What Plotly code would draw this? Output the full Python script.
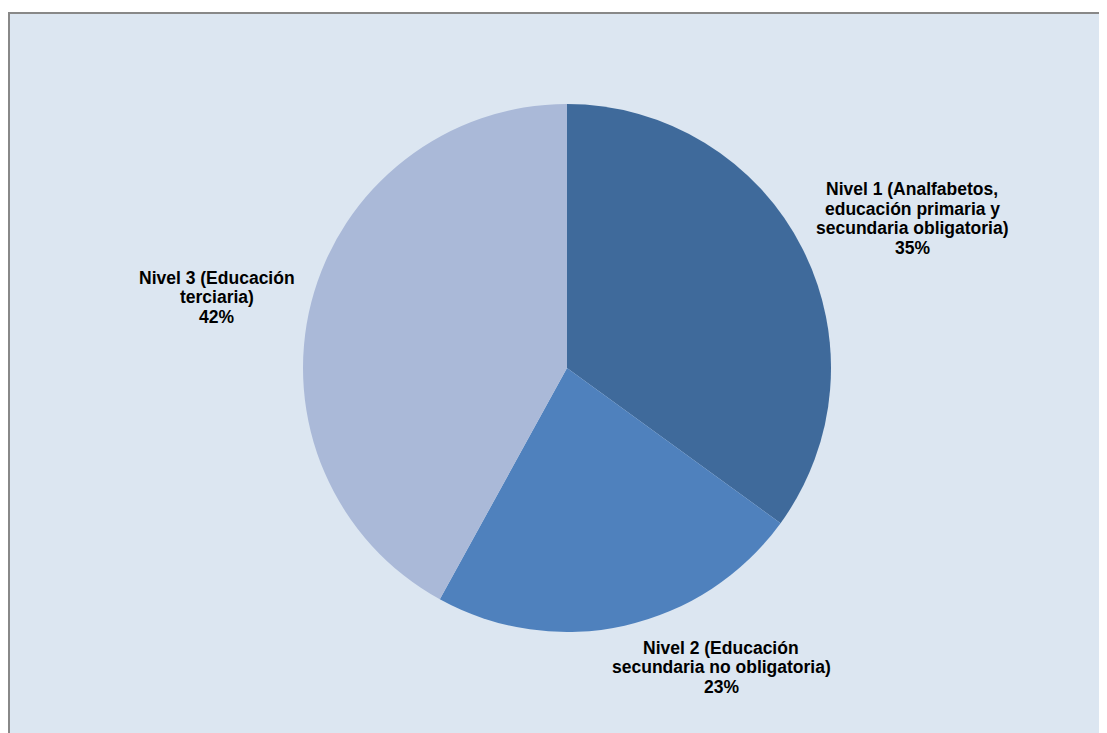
import plotly.graph_objects as go

categories = [
    "Nivel 1 (Analfabetos,<br>educación primaria y<br>secundaria obligatoria)",
    "Nivel 2 (Educación<br>secundaria no obligatoria)",
    "Nivel 3 (Educación<br>terciaria)",
]
values = [35, 23, 42]
colors = ["#3F6A9B", "#4F81BD", "#AAB9D8"]

# page body has an 8px margin, so the figure is drawn 8px in from the window edge
OFF = 8
W, H = 1107 - OFF, 733 - OFF

# label block centres in window pixels (x, y)
label_px = [(912, 218.5), (721, 667), (216.5, 297)]
LINE_H = 19.5

def px_x(x):
    return (x - OFF) / W

def px_y(y):
    return 1 - (y - OFF) / H

fig = go.Figure()
fig.add_trace(go.Pie(
    labels=categories,
    values=values,
    sort=False,
    direction="clockwise",
    rotation=0,
    marker=dict(colors=colors, line=dict(width=0)),
    textinfo="none",
    hoverinfo="label+percent",
    showlegend=False,
    domain=dict(x=[px_x(303), px_x(831)], y=[px_y(632), px_y(104)]),
))

total = sum(values)
annotations = []
for cat, v, (cx, cy) in zip(categories, values, label_px):
    lines = cat.split("<br>") + [f"{round(100 * v / total)}%"]
    n = len(lines)
    for i, ln in enumerate(lines):
        ly = cy + (i - (n - 1) / 2) * LINE_H
        annotations.append(dict(
            text=f"<b>{ln}</b>",
            x=px_x(cx), y=px_y(ly), xref="paper", yref="paper",
            xanchor="center", yanchor="middle",
            showarrow=False, align="center",
            font=dict(family="Liberation Sans, Arial, sans-serif", size=17.5, color="#000000"),
        ))

fig.update_layout(
    width=W, height=H,
    margin=dict(l=0, r=0, t=0, b=0),
    paper_bgcolor="#FFFFFF",
    plot_bgcolor="#FFFFFF",
    shapes=[dict(
        type="rect", xref="paper", yref="paper", layer="below",
        x0=1 / W, x1=1.05, y0=-0.05, y1=px_y(13),
        fillcolor="#DCE6F1", line=dict(color="#888888", width=2),
    )],
    annotations=annotations,
)

fig.write_html("out.html")
